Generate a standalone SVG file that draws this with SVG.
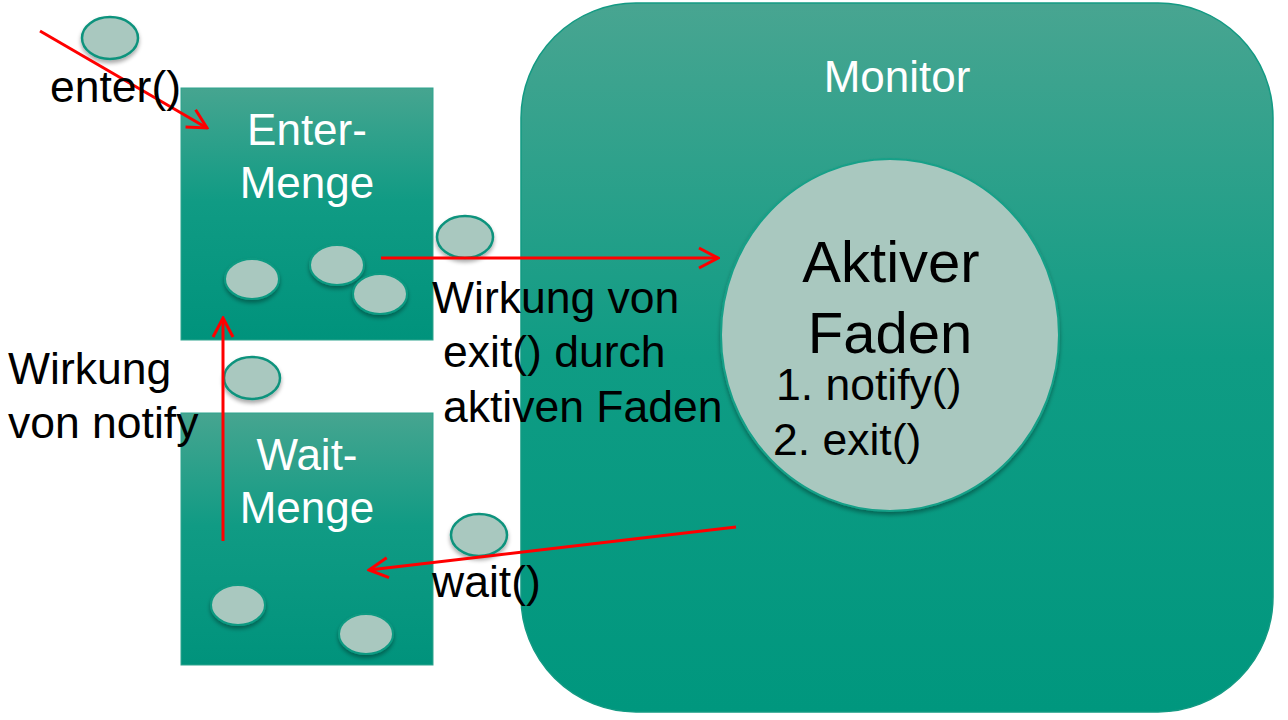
<svg xmlns="http://www.w3.org/2000/svg" width="1288" height="720" viewBox="0 0 1288 720">
<defs>
<linearGradient id="gBox" x1="0" y1="0" x2="0" y2="1">
<stop offset="0" stop-color="#46a590"/>
<stop offset="0.45" stop-color="#109b84"/>
<stop offset="1" stop-color="#00937c"/>
</linearGradient>
<linearGradient id="gMon" x1="0" y1="0" x2="0" y2="1">
<stop offset="0" stop-color="#48a591"/>
<stop offset="0.5" stop-color="#0f9c84"/>
<stop offset="1" stop-color="#00977e"/>
</linearGradient>
<filter id="sh" x="-30%" y="-30%" width="160%" height="170%">
<feGaussianBlur in="SourceAlpha" stdDeviation="2"/>
<feOffset dy="3"/>
<feComponentTransfer><feFuncA type="linear" slope="0.35"/></feComponentTransfer>
<feMerge><feMergeNode/><feMergeNode in="SourceGraphic"/></feMerge>
</filter>
<marker id="ah" viewBox="0 0 24 24" refX="22" refY="12" markerWidth="24" markerHeight="24" markerUnits="userSpaceOnUse" orient="auto">
<path d="M3,2 L22,12 L3,22" fill="none" stroke="#ff0000" stroke-width="3"/>
</marker>
</defs>
<style>
.box{fill:url(#gBox);stroke:#2ea48e;stroke-width:1}
.tok{fill:#a9c8bf;stroke:#10937d;stroke-width:2.5;filter:url(#sh)}
.tokin{fill:#a9c8bf;stroke:#0e9a82;stroke-width:2;filter:url(#sh)}
.wt{font-family:"Liberation Sans",Arial,sans-serif;font-size:44px;fill:#ffffff}
.bt{font-family:"Liberation Sans",Arial,sans-serif;font-size:44.5px;fill:#000000}
.big{font-family:"Liberation Sans",Arial,sans-serif;font-size:58px;fill:#000000}
.arr{stroke:#ff0000;stroke-width:3;fill:none;marker-end:url(#ah)}
</style>

<g id="monitor">
<rect x="521" y="3" width="752" height="709" rx="115" ry="115" fill="url(#gMon)" stroke="#139a83" stroke-width="1.5"/>
<text class="wt" x="897" y="92" text-anchor="middle">Monitor</text>
</g>

<g id="aktiver-faden">
<ellipse cx="890" cy="335" rx="169" ry="176" fill="#a9c8bf" stroke="#16a088" stroke-width="2" filter="url(#sh)"/>
<text class="big" x="891" y="282" text-anchor="middle">Aktiver</text>
<text class="big" x="890" y="353" text-anchor="middle">Faden</text>
<text class="bt" x="776" y="400">1. notify()</text>
<text class="bt" x="773" y="455">2. exit()</text>
</g>

<g id="enter-menge">
<rect class="box" x="181" y="88" width="252" height="252"/>
<text class="wt" x="307" y="145" text-anchor="middle">Enter-</text>
<text class="wt" x="307" y="198" text-anchor="middle">Menge</text>
<ellipse class="tokin" cx="252" cy="279" rx="27" ry="20"/>
<ellipse class="tokin" cx="337" cy="265" rx="27" ry="20"/>
<ellipse class="tokin" cx="380" cy="294" rx="27" ry="20"/>
</g>

<g id="wait-menge">
<rect class="box" x="181" y="413" width="252" height="252"/>
<text class="wt" x="307" y="470" text-anchor="middle">Wait-</text>
<text class="wt" x="307" y="523" text-anchor="middle">Menge</text>
<ellipse class="tokin" cx="238" cy="605" rx="27" ry="20"/>
<ellipse class="tokin" cx="366" cy="634" rx="27" ry="20"/>
</g>

<g id="threads">
<ellipse class="tok" cx="110" cy="38" rx="28" ry="21"/>
<ellipse class="tok" cx="465" cy="237" rx="28" ry="21"/>
<ellipse class="tok" cx="252" cy="378" rx="28" ry="21"/>
<ellipse class="tok" cx="479" cy="535" rx="28" ry="21"/>
</g>

<g id="connectors">
<line class="arr" x1="40" y1="31" x2="207" y2="128"/>
<line class="arr" x1="381" y1="258" x2="718" y2="258"/>
<line class="arr" x1="223" y1="541" x2="223" y2="318"/>
<line class="arr" x1="736" y1="527" x2="369" y2="570"/>
</g>

<g id="labels">
<text class="bt" x="50" y="102">enter()</text>
<text class="bt" x="432" y="313">Wirkung von</text>
<text class="bt" x="443" y="367">exit() durch</text>
<text class="bt" x="443" y="422">aktiven Faden</text>
<text class="bt" x="8" y="384">Wirkung</text>
<text class="bt" x="8" y="438">von notify</text>
<text class="bt" x="432" y="597">wait()</text>
</g>
</svg>
